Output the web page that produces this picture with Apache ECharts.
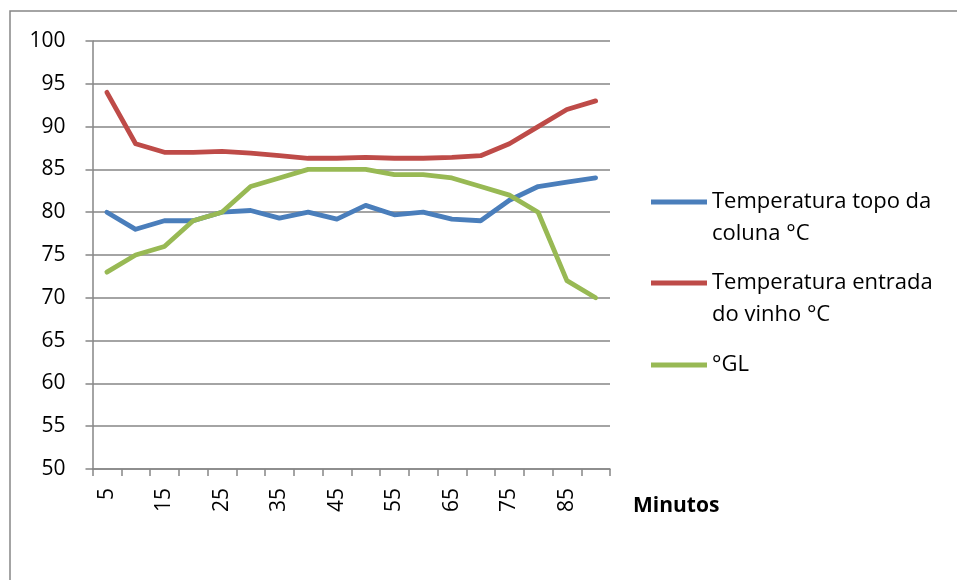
<!DOCTYPE html>
<html>
<head>
<meta charset="utf-8">
<script src="https://cdn.jsdelivr.net/npm/echarts@6/dist/echarts.min.js"></script>
<style>
  html, body { margin: 0; padding: 0; background: #fff; }
  #chart { width: 957px; height: 580px; }
</style>
</head>
<body>
<div id="chart"></div>
<script>
// Sampling times (minutes)
const minutes = ['5','10','15','20','25','30','35','40','45','50','55','60','65','70','75','80','85','90'];

// Temperature at the top of the column (°C)
const topoColuna = [80, 78, 79, 79, 80, 80.2, 79.3, 80, 79.2, 80.8, 79.7, 80, 79.2, 79, 81.4, 83, 83.5, 84];

// Wine inlet temperature (°C)
const entradaVinho = [94, 88, 87, 87, 87.1, 86.9, 86.6, 86.3, 86.3, 86.4, 86.3, 86.3, 86.4, 86.6, 88, 90, 92, 93];

// Alcohol content (°GL)
const grauGL = [73, 75, 76, 79, 80, 83, 84, 85, 85, 85, 84.4, 84.4, 84, 83, 82, 80, 72, 70];

const seriesNames = ['Temperatura topo da coluna °C', 'Temperatura entrada do vinho °C', '°GL'];
// Legend text broken into lines; a blank first line keeps the key beside the first text line
const legendText = {
  'Temperatura topo da coluna °C': '\nTemperatura topo da\ncoluna °C',
  'Temperatura entrada do vinho °C': '\nTemperatura entrada\ndo vinho °C',
  '°GL': '°GL'
};
const legendTops = [154, 235, 349];

const FONT = 'Open Sans';
const GRID_GRAY = '#868686';

const chart = echarts.init(document.getElementById('chart'), null, { renderer: 'canvas' });

function lineSeries(name, data, color) {
  return {
    name: name,
    type: 'line',
    data: data,
    symbol: 'none',
    smooth: false,
    lineStyle: { color: color, width: 4.8, cap: 'round', join: 'round' },
    itemStyle: { color: color },
    emphasis: { disabled: true }
  };
}

// One legend block per series so each key sits next to its own first line
const legends = seriesNames.map((n, i) => ({
  orient: 'vertical',
  left: 651,
  top: legendTops[i],
  padding: 0,
  icon: 'rect',
  itemWidth: 56,
  itemHeight: 5,
  data: [n],
  formatter: name => legendText[name],
  textStyle: { fontFamily: FONT, fontSize: 22, color: '#000', lineHeight: 32 },
  selectedMode: false
}));

chart.setOption({
  animation: false,
  backgroundColor: '#ffffff',
  textStyle: { fontFamily: FONT },
  graphic: [
    {
      type: 'rect',
      shape: { x: 10, y: 11, width: 980, height: 620 },
      style: { fill: 'none', stroke: GRID_GRAY, lineWidth: 1.5 },
      silent: true,
      z: -1
    },
    {
      type: 'text',
      left: 633,
      top: 496,
      style: { text: 'Minutos', font: 'bold 21px "Open Sans"', fill: '#000' },
      silent: true
    }
  ],
  grid: { left: 92.5, right: 347, top: 41, bottom: 111, containLabel: false },
  legend: legends,
  xAxis: {
    type: 'category',
    data: minutes,
    boundaryGap: true,
    axisLine: { show: true, lineStyle: { color: GRID_GRAY, width: 1.5 } },
    axisTick: { show: true, interval: 0, length: 7, lineStyle: { color: GRID_GRAY, width: 1.5 } },
    axisLabel: {
      interval: 1, rotate: 90, margin: 19,
      fontFamily: FONT, fontSize: 21, color: '#000'
    },
    splitLine: { show: false }
  },
  yAxis: {
    type: 'value',
    min: 50,
    max: 100,
    interval: 5,
    axisLine: { show: true, lineStyle: { color: GRID_GRAY, width: 1.5 } },
    axisTick: { show: true, length: 7, lineStyle: { color: GRID_GRAY, width: 1.5 } },
    axisLabel: { margin: 27, fontFamily: FONT, fontSize: 21, color: '#000' },
    splitLine: { show: true, lineStyle: { color: GRID_GRAY, width: 1.5 } }
  },
  series: [
    lineSeries(seriesNames[0], topoColuna, '#4A7EBB'),
    lineSeries(seriesNames[1], entradaVinho, '#BE4B48'),
    lineSeries(seriesNames[2], grauGL, '#98B954')
  ]
});
</script>
</body>
</html>
